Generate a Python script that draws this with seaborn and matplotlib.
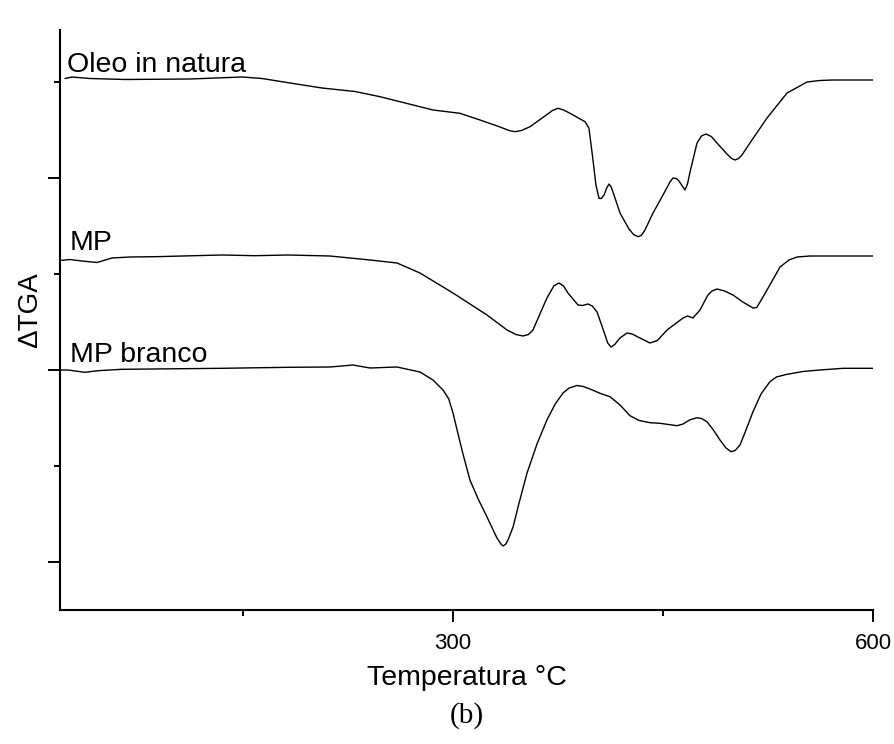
import numpy as np
import pandas as pd
import matplotlib
matplotlib.use("Agg")
import matplotlib.pyplot as plt
import seaborn as sns
from matplotlib.ticker import FixedLocator, NullFormatter

# ---- data (y in arbitrary ΔTGA units) ----
oleo_T = [22.9, 27.9, 40.7, 65.7, 112.1, 149.3, 163.6, 183.6, 206.4, 230, 247.9, 285.7, 305, 319.3,
          333.6, 340, 344.3, 349, 355, 365.7, 371, 375, 379, 383.6, 394.3, 397.1, 400, 402.1, 404.3,
          406, 407.9, 409.8, 411.4, 413, 415, 419.3, 425.7, 429, 432.1, 434.5, 437.1, 442.9, 450,
          455, 457.1, 459.5, 461.4, 463.8, 465.7, 467.5, 469.3, 474.3, 477.5, 480.7, 484.5, 488.6,
          495, 499, 501.4, 504, 506.4, 512.1, 524.3, 538.6, 552.9, 562, 571.4, 600]
oleo_y = [483.5, 485, 483.5, 482.5, 483, 485, 483.5, 479, 474, 470.5, 465.3, 452, 448.7, 442,
          435, 431.5, 430.3, 431.5, 435.3, 446, 451.5, 453.7, 452, 448.7, 440.3, 434, 402, 377, 363.7,
          363.5, 367, 374, 378, 375, 367, 349, 333, 327.5, 325.3, 326.5, 332, 349, 367,
          380, 384, 383.5, 381, 376, 372, 378, 390, 419, 426, 428, 425.5, 419,
          409, 403.5, 402, 403.5, 407, 419, 444, 469, 480, 481.5, 482, 482]

mp_T = [19.3, 26.4, 35, 45.7, 56.4, 69.3, 87.1, 135, 158.6, 182.1, 212.1, 240.7, 260, 276.4, 300,
        324.3, 338.6, 345, 350, 354, 357.1, 367.1, 372, 375.7, 379, 382.1, 389.3, 392.5, 396.4,
        399.5, 402.9, 407.9, 410.5, 412.9, 415.5, 419.3, 424.3, 428, 432.1, 440.7, 446, 452.9,
        464.3, 467.5, 471.4, 476.4, 482.1, 485, 488.6, 494, 500, 507, 514.3, 517, 519.3, 524.3,
        533.6, 540, 545.7, 555, 571.4, 600]
mp_y = [301.5, 302.5, 301, 299.5, 304, 305, 305.3, 307, 306.3, 307, 306, 302, 299, 289, 269,
        247, 232, 227.5, 226, 227.5, 232, 264, 276, 279, 276, 269, 257, 256.5, 258,
        256, 250, 230, 219, 215, 217.5, 224, 229, 228, 225, 219, 221.5, 232,
        244, 246, 244, 252, 267, 271, 273, 271, 267, 260, 254, 254.5, 260, 272,
        295, 302, 305, 306, 306, 306]

branco_T = [19.3, 25, 37.1, 46.4, 63.6, 135, 182.1, 212.1, 228.6, 240.7, 260, 276.4, 285.7, 292.9,
            297, 300, 306.4, 312.1, 318, 324.3, 331.4, 334, 335.7, 337.5, 339.3, 342.9, 347, 352.9,
            360, 367.1, 373, 378.6, 383, 388.6, 393, 397.9, 405, 412.1, 419.3, 426.4, 433, 440.7,
            447.9, 460, 464.3, 469, 474.3, 477.5, 481.4, 486, 490.7, 495, 498.6, 501.5, 505, 509,
            514.3, 520, 526.4, 531, 538.6, 550, 562.1, 578.6, 600]
branco_y = [192, 192, 189.7, 191.3, 192.7, 193.7, 194.7, 195, 197, 194, 195, 190, 182, 172,
            163, 149, 112, 82, 63, 45, 24, 18.5, 16, 17.5, 22, 35, 58, 89,
            118, 142, 158, 169, 174, 176.5, 175.5, 173, 168.7, 165.3, 157, 146.3, 141.5, 139.3,
            138.7, 136.3, 138, 142, 144.3, 143.5, 140.3, 132, 122, 114, 110.3, 111.5, 117, 131,
            150.3, 168, 180.3, 185, 187.7, 190.5, 192, 193.7, 193.7]

series_names = ["Oleo in natura", "MP", "MP branco"]
x_major = [300, 600]
x_minor = [150, 450]
y_major = [0, 192, 384]
y_minor = [96, 288, 480]

df = pd.concat([
    pd.DataFrame({"T": oleo_T, "y": oleo_y, "s": series_names[0]}),
    pd.DataFrame({"T": mp_T, "y": mp_y, "s": series_names[1]}),
    pd.DataFrame({"T": branco_T, "y": branco_y, "s": series_names[2]}),
], ignore_index=True)

sns.set_theme(style="ticks")
plt.rcParams["font.family"] = ["Liberation Sans", "DejaVu Sans"]
plt.rcParams["text.color"] = "black"
plt.rcParams["axes.labelcolor"] = "black"
plt.rcParams["xtick.color"] = "black"
plt.rcParams["ytick.color"] = "black"

fig = plt.figure(figsize=(8.94, 7.44), dpi=100)
ax = fig.add_axes([60 / 894, 1 - 610 / 744, (873 - 60) / 894, (610 - 30) / 744])

sns.lineplot(data=df, x="T", y="y", hue="s", palette=["black"] * 3, legend=False,
             sort=False, estimator=None, linewidth=1.0, ax=ax)

ax.set_xlim(19.3, 600)
ax.set_ylim(-48, 532)

ax.xaxis.set_major_locator(FixedLocator(x_major))
ax.xaxis.set_minor_locator(FixedLocator(x_minor))
ax.yaxis.set_major_locator(FixedLocator(y_major))
ax.yaxis.set_minor_locator(FixedLocator(y_minor))
ax.yaxis.set_major_formatter(NullFormatter())
ax.set_xticklabels([str(v) for v in x_major])

ax.tick_params(which="major", direction="out", length=8.5, width=1.4, labelsize=16, pad=8,
               color="black", labelcolor="black")
ax.tick_params(which="minor", direction="out", length=4.3, width=1.4, color="black")
for side in ["top", "right"]:
    ax.spines[side].set_visible(False)
for side in ["left", "bottom"]:
    ax.spines[side].set_linewidth(1.5)
    ax.spines[side].set_color("black")

ax.set_xlabel("Temperatura °C", fontsize=20.5, labelpad=8, color="black")
ax.set_ylabel("")
fig.text(30 / 894, 1 - 310 / 744, "ΔTGA", rotation=90, fontsize=20, ha="center", va="center")

# series labels
label_T = [24.3, 26.4, 26.4]
label_y = [490, 312, 200]
for name, tx, ty in zip(series_names, label_T, label_y):
    ax.text(tx, ty, name, fontsize=20.5, ha="left", va="baseline", color="black")

fig.text(467 / 894, 1 - 716 / 744, "(b)", fontsize=21, ha="center", va="center",
         family=["Liberation Serif", "DejaVu Serif"])

fig.savefig("out.png", dpi=100)
